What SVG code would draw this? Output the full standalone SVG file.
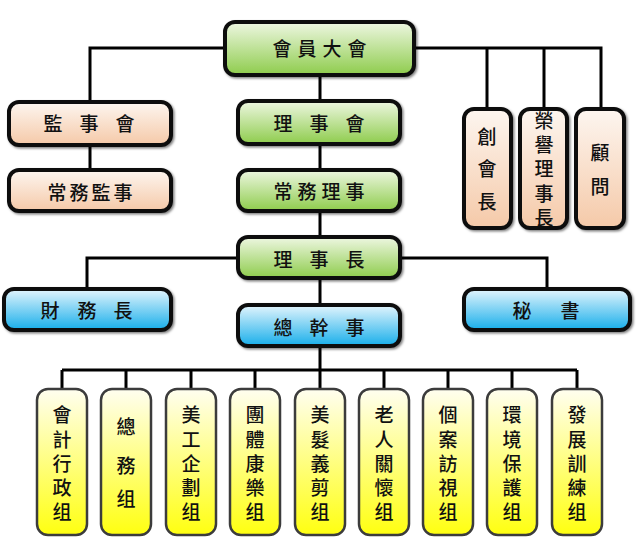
<svg xmlns="http://www.w3.org/2000/svg" width="636" height="539" viewBox="0 0 636 539">
<defs>
<linearGradient id="gGreen" x1="0" y1="0" x2="0" y2="1"><stop offset="0" stop-color="#eef7e2"/><stop offset="1" stop-color="#8ecc4c"/></linearGradient>
<linearGradient id="gPeach" x1="0" y1="0" x2="0" y2="1"><stop offset="0" stop-color="#fdf6f0"/><stop offset="1" stop-color="#f5c9a8"/></linearGradient>
<linearGradient id="gBlue" x1="0" y1="0" x2="0" y2="1"><stop offset="0" stop-color="#e4f5fd"/><stop offset="1" stop-color="#17aeea"/></linearGradient>
<linearGradient id="gYellow" x1="0" y1="0" x2="0" y2="1"><stop offset="0" stop-color="#fffef0"/><stop offset="1" stop-color="#ffff10"/></linearGradient>
<filter id="sh" x="-10%" y="-10%" width="130%" height="130%"><feDropShadow dx="1.5" dy="1.5" stdDeviation="1" flood-color="#000" flood-opacity="0.5"/></filter>
</defs>
<style>
.b{stroke:#0d0d0d;stroke-width:4;filter:url(#sh)}
.y{stroke:#3c3c3c;stroke-width:2.5;fill:url(#gYellow)}
.g{fill:url(#gGreen)}
.p{fill:url(#gPeach)}
.bl{fill:url(#gBlue)}
text{font-family:"Noto Sans CJK TC","Noto Sans CJK SC",sans-serif;font-size:19px;font-weight:500;fill:#111;text-anchor:middle;dominant-baseline:central}
.c path{fill:none;stroke:#000;stroke-width:3}
</style>
<g class="c" id="connectors">
<path d="M225 48H90V102M90 145V170"/>
<path d="M320 76V370"/>
<path d="M414 48H601V109M487 48V109M544 48V109"/>
<path d="M238 258H87V289M400 258H547V289"/>
<path d="M62 370H577M62 370V389M126 370V389M191 370V389M255 370V389M320 370V389M384 370V389M448 370V389M512 370V389M577 370V389"/>
</g>
<g id="n-members"><rect class="b g" x="225" y="22" width="189" height="53" rx="10"/><text x="282 307 332 357" y="47">會員大會</text></g>
<g id="n-supervisors"><rect class="b p" x="9" y="102" width="162" height="43" rx="10"/><text x="53 89 125" y="122">監事會</text></g>
<g id="n-standing-sup"><rect class="b p" x="9" y="170" width="162" height="41" rx="10"/><text x="57 79 101 123" y="191">常務監事</text></g>
<g id="n-board"><rect class="b g" x="238" y="101" width="162" height="43" rx="10"/><text x="283 319 355" y="122">理事會</text></g>
<g id="n-standing-dir"><rect class="b g" x="238" y="170" width="162" height="41" rx="10"/><text x="283 307 331 355" y="190">常務理事</text></g>
<g id="n-chair"><rect class="b g" x="238" y="237" width="162" height="41" rx="10"/><text x="283 319 355" y="258">理事長</text></g>
<g id="n-secgen"><rect class="b bl" x="238" y="305" width="162" height="41" rx="10"/><text x="283 319 355" y="326">總幹事</text></g>
<g id="n-treasurer"><rect class="b bl" x="4" y="289" width="167" height="41" rx="10"/><text x="50 87 123" y="309">財務長</text></g>
<g id="n-secretary"><rect class="b bl" x="464" y="289" width="166" height="41" rx="10"/><text x="522 570" y="309">秘書</text></g>
<g id="n-founder"><rect class="b p" x="464" y="109" width="47" height="119" rx="10"/><text x="487 487 487" y="135 167 200">創會長</text></g>
<g id="n-honorary"><rect class="b p" x="520" y="109" width="47" height="119" rx="10"/><text x="544 544 544 544 544" y="119 143 167 192 216">榮譽理事長</text></g>
<g id="n-advisor"><rect class="b p" x="576" y="109" width="48" height="119" rx="10"/><text x="600 600" y="151 185">顧問</text></g>
<g id="n-g1"><rect class="y" x="37" y="389" width="50" height="146" rx="11"/><text x="62 62 62 62 62" y="413 438 462 486 510">會計行政组</text></g>
<g id="n-g2"><rect class="y" x="101" y="389" width="50" height="146" rx="11"/><text x="126 126 126" y="425 464 497">總務组</text></g>
<g id="n-g3"><rect class="y" x="166" y="389" width="50" height="146" rx="11"/><text x="191 191 191 191 191" y="413 438 462 486 510">美工企劃组</text></g>
<g id="n-g4"><rect class="y" x="230" y="389" width="50" height="146" rx="11"/><text x="255 255 255 255 255" y="413 438 462 486 510">團體康樂组</text></g>
<g id="n-g5"><rect class="y" x="295" y="389" width="50" height="146" rx="11"/><text x="320 320 320 320 320" y="413 438 462 486 510">美髮義剪组</text></g>
<g id="n-g6"><rect class="y" x="359" y="389" width="50" height="146" rx="11"/><text x="384 384 384 384 384" y="413 438 462 486 510">老人關懷组</text></g>
<g id="n-g7"><rect class="y" x="423" y="389" width="50" height="146" rx="11"/><text x="448 448 448 448 448" y="413 438 462 486 510">個案訪視组</text></g>
<g id="n-g8"><rect class="y" x="487" y="389" width="50" height="146" rx="11"/><text x="512 512 512 512 512" y="413 438 462 486 510">環境保護组</text></g>
<g id="n-g9"><rect class="y" x="552" y="389" width="50" height="146" rx="11"/><text x="577 577 577 577 577" y="413 438 462 486 510">發展訓練组</text></g>
</svg>
